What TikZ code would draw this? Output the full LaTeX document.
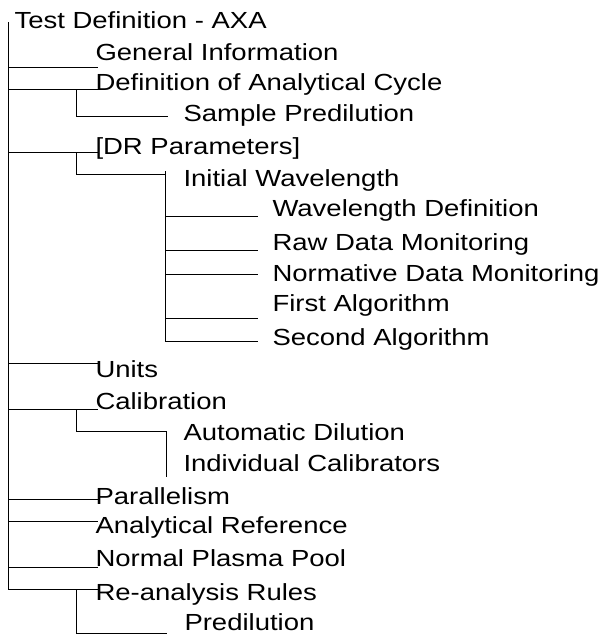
\documentclass[tikz,border=0pt]{standalone}
\usepackage{fontspec}
\setmainfont[FakeStretch=1.18]{Liberation Sans}
\begin{document}
\begin{tikzpicture}[x=1pt,y=-1pt,
  lbl/.style={anchor=base west,inner sep=0pt,outer sep=0pt,font=\fontsize{23.3pt}{28pt}\selectfont},
  tree/.style={line width=1.3pt,black,line cap=rect}]
\useasboundingbox (0,0) rectangle (603,635);
% labels
\node[lbl] (root) at (14.5,28.3) {Test Definition - AXA};
\node[lbl] (gen)  at (95.5,60) {General Information};
\node[lbl] (def)  at (95.5,90.7) {Definition of Analytical Cycle};
\node[lbl] (samp) at (183.5,121.7) {Sample Predilution};
\node[lbl] (dr)   at (95.5,154.7) {[DR Parameters]};
\node[lbl] (iw)   at (183.5,186.7) {Initial Wavelength};
\node[lbl] (wd)   at (272.5,216.7) {Wavelength Definition};
\node[lbl] (raw)  at (272.5,250.7) {Raw Data Monitoring};
\node[lbl] (norm) at (272.5,281.7) {Normative Data Monitoring};
\node[lbl] (fa)   at (272.5,311.7) {First Algorithm};
\node[lbl] (sa)   at (272.5,345) {Second Algorithm};
\node[lbl] (un)   at (95.5,377.7) {Units};
\node[lbl] (cal)  at (95.5,409) {Calibration};
\node[lbl] (ad)   at (183.5,440) {Automatic Dilution};
\node[lbl] (ic)   at (183.5,471.7) {Individual Calibrators};
\node[lbl] (par)  at (95.5,504.3) {Parallelism};
\node[lbl] (ar)   at (95.5,533.3) {Analytical Reference};
\node[lbl] (npp)  at (95.5,566.7) {Normal Plasma Pool};
\node[lbl] (rr)   at (95.5,600) {Re-analysis Rules};
\node[lbl] (pre)  at (184.5,630) {Predilution};
% junction coordinates
\coordinate (trunkTop) at (8.5,23);
\foreach \n/\y in {gen/67.5,def/89.5,dr/152.5,un/363.5,cal/409.5,par/499.5,ar/521.5,npp/567.5,rr/589.5}{
  \coordinate (t-\n) at (8.5,\y);
  \coordinate (e-\n) at (97.5,\y);
  \coordinate (s-\n) at (76.5,\y);
}
\coordinate (k-samp) at (76.5,116.5); \coordinate (e-samp) at (167,116.5);
\coordinate (k-iw)   at (76.5,174.5); \coordinate (e-iw)   at (165.5,174.5);
\coordinate (v3top)  at (165.5,172);
\foreach \n/\y in {wd/216.5,raw/250.5,norm/274.5,fa/318.5,sa/341.5}{
  \coordinate (b-\n) at (165.5,\y);
  \coordinate (e-\n) at (257,\y);
}
\coordinate (k-cal)  at (76.5,431.5); \coordinate (j-cal)  at (166.5,431.5);
\coordinate (v-cal)  at (166.5,476.7);
\coordinate (k-rr)   at (76.5,633.5); \coordinate (e-rr2)  at (166.7,633.5);
% trunk
\draw[tree] (trunkTop) -- (t-rr);
\foreach \n in {gen,def,dr,un,cal,par,ar,npp,rr}{
  \draw[tree] (t-\n) -- (e-\n);
}
% sub branches
\draw[tree] (s-def) -- (k-samp) -- (e-samp);
\draw[tree] (s-dr) -- (k-iw) -- (e-iw);
\draw[tree] (v3top) -- (b-sa);
\foreach \n in {wd,raw,norm,fa,sa}{
  \draw[tree] (b-\n) -- (e-\n);
}
\draw[tree] (s-cal) -- (k-cal) -- (j-cal) -- (v-cal);
\draw[tree] (s-rr) -- (k-rr) -- (e-rr2);
\end{tikzpicture}
\end{document}
